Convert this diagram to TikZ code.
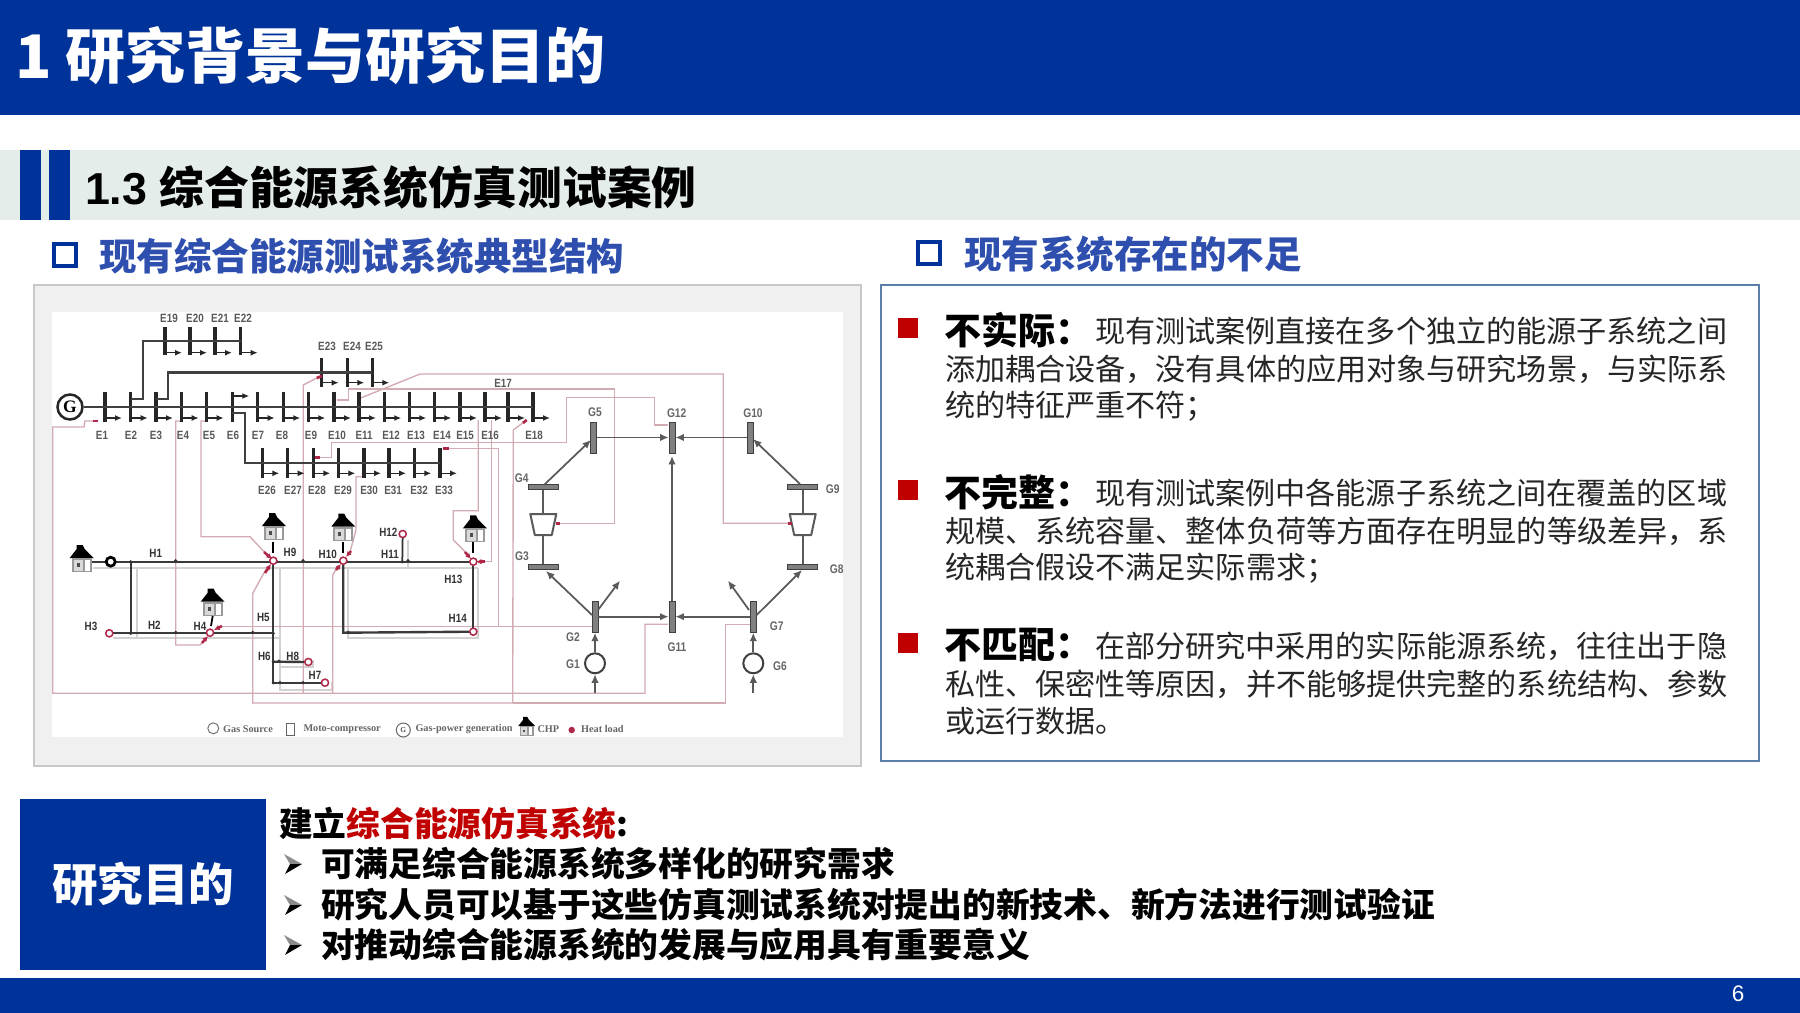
\documentclass[tikz,border=0pt]{standalone}
\usepackage{fontspec}
\setmainfont{Liberation Sans}
\newfontfamily\cjk{Noto Sans CJK SC}
\newfontfamily\legendfont{Liberation Serif}
\newfontfamily\labfont[FakeStretch=0.82]{Liberation Sans}
\usetikzlibrary{arrows.meta,calc}
\definecolor{navy}{HTML}{003399}
\definecolor{secbg}{HTML}{E5EDEB}
\definecolor{subblue}{HTML}{2F4FAF}
\definecolor{panelbg}{HTML}{F0F0F0}
\definecolor{panelln}{HTML}{C8C8C8}
\definecolor{boxln}{HTML}{5B7FA8}
\definecolor{redsq}{HTML}{C00000}
\definecolor{pinkln}{HTML}{D3ABB2}
\definecolor{crim}{HTML}{B02848}
\definecolor{retln}{HTML}{D2D2D2}
\definecolor{pipe}{HTML}{3A3A3A}
\definecolor{gasln}{HTML}{5A5A5A}
\newcommand{\fs}[1]{\fontsize{#1pt}{#1pt}\selectfont}
\newcommand{\chpicon}[2]{%
  \fill[black] (#1-12,#2)--(#1-5,#2-9)--(#1-5,#2-13)--(#1+1,#2-13)--(#1+3,#2-9)--(#1+12,#2)--cycle;
  \fill[black!40] (#1-10,#2)rectangle(#1+10,#2+14);
  \fill[white] (#1+3,#2+2)rectangle(#1+8,#2+13);
  \fill[white!85!black] (#1-8,#2+2)rectangle(#1+1,#2+13);
  \fill[black!70] (#1-5,#2+5)rectangle(#1-2,#2+9);
}
\newcommand{\cmpr}[2]{%
  \coordinate (#2t) at (#1,514); \coordinate (#2b) at (#1,535);
  \draw[gasln,line width=.8pt,fill=white,line join=round] (#1-13,514)--(#1+13,514)--(#1+8.5,535)--(#1-8.5,535)--cycle;
}
\newcommand{\bulletarrow}[1]{%
  \fill[black!45] (284,#1-10)--(302,#1)--(290,#1)--cycle;
  \fill[black] (302,#1)--(285,#1+10)--(290,#1)--cycle;
}
\tikzset{x=0.4pt,y=-0.4pt,
  txt/.style={inner sep=0pt,outer sep=0pt,anchor=west,font=\cjk},
  ebus/.style={rectangle,fill=black!85,inner sep=0pt,minimum width=1.3pt,minimum height=12pt},
  eline/.style={draw=black!75,line width=.95pt},
  load/.style={draw=black!85,line width=.6pt,-{Latex[length=2.8pt,width=2.4pt]}},
  elab/.style={inner sep=0pt,font=\labfont\bfseries\fs{4.8},text=black!65,text height=3.4pt,text depth=0pt},
  hlab/.style={inner sep=0pt,font=\labfont\bfseries\fs{4.8},text=black!80,text height=3.4pt,text depth=0pt},
  glab/.style={inner sep=0pt,font=\labfont\bfseries\fs{5},text=black!60,text height=3.6pt,text depth=0pt},
  legtxt/.style={inner sep=0pt,anchor=west,font=\legendfont\bfseries\fs{4.1},text=black!60},
  gasv/.style={rectangle,draw=black!75,fill=black!50,line width=.35pt,inner sep=0pt,minimum width=2.4pt,minimum height=12.4pt},
  gash/.style={rectangle,draw=black!75,fill=black!50,line width=.35pt,inner sep=0pt,minimum width=12pt,minimum height=1.9pt},
  gsrc/.style={circle,draw=black!75,fill=white,line width=.8pt,inner sep=0pt,minimum size=8pt},
  gline/.style={draw=gasln,line width=.7pt},
  garr/.style={gline,-{Latex[length=3.4pt,width=3pt]}},
  heat/.style={draw=pinkln,line width=.55pt,line join=miter},
  cross/.style={draw=crim,line width=1pt},
  crossa/.style={draw=crim,line width=1pt,-{Latex[length=2.2pt,width=2.2pt]}},
  pipeln/.style={draw=pipe,line width=.95pt},
  retpipe/.style={draw=retln,line width=.7pt},
  hload/.style={circle,draw=crim,fill=white,line width=.55pt,inner sep=0pt,minimum size=2.8pt},
  jdot/.style={circle,fill=black!80,inner sep=0pt,minimum size=1.4pt},
  redbox/.style={fill=redsq,inner sep=0pt,minimum size=8pt,rectangle},
  sq/.style={rectangle,draw=#1,line width=1.5pt,inner sep=0pt,minimum size=8.6pt},
}
\begin{document}
\begin{tikzpicture}
\useasboundingbox (0,0) rectangle (1800,1013);
\fill[white] (0,0) rectangle (1800,1013);
% header, footer, section bar
\fill[navy] (0,0) rectangle (1800,115);
\fill[navy] (0,978) rectangle (1800,1013);
\fill[secbg] (0,150) rectangle (1800,220);
\fill[navy] (20,150) rectangle (41,220);
\fill[navy] (49,150) rectangle (70,220);
\node[txt,text=white] (title) at (15,56) {\fs{24}\bfseries 1 研究背景与研究目的};
\node[txt,text=black] (sect) at (85,187) {\fs{17.9}\bfseries\fontspec{Liberation Sans}1.3 \cjk 综合能源系统仿真测试案例};
\node[sq=navy] (sqa) at (65,255) {};
\node[txt,text=subblue] (suba) at (99,256) {\fs{15}\bfseries 现有综合能源测试系统典型结构};
\node[sq=navy] (sqb) at (929,253) {};
\node[txt,text=subblue] (subb) at (964,254) {\fs{15}\bfseries 现有系统存在的不足};
\node[inner sep=0pt,font=\fs{9},text=white] (pgno) at (1738,994) {6};
% left panel
\draw[panelln,fill=panelbg,line width=.7pt] (34,285) rectangle (861,766);
\fill[white] (52,312) rectangle (843,737);
% right panel
\draw[boxln,line width=.65pt] (881,285) rectangle (1759,761);
\node[redbox] (ra) at (908,328) {};
\node[redbox] (rb) at (908,490) {};
\node[redbox] (rc) at (908,643) {};
\node[txt] (ha) at (944,330) {\fs{14.8}\bfseries 不实际：};
\node[txt,text=black!85] (a1) at (1095,331) {\fs{12.04}现有测试案例直接在多个独立的能源子系统之间};
\node[txt,text=black!85] (a2) at (945,369) {\fs{12.04}添加耦合设备，没有具体的应用对象与研究场景，与实际系};
\node[txt,text=black!85] (a3) at (945,406) {\fs{12.04}统的特征严重不符；};
\node[txt] (hb) at (944,492) {\fs{14.8}\bfseries 不完整：};
\node[txt,text=black!85] (b1) at (1095,493) {\fs{12.04}现有测试案例中各能源子系统之间在覆盖的区域};
\node[txt,text=black!85] (b2) at (945,531) {\fs{12.04}规模、系统容量、整体负荷等方面存在明显的等级差异，系};
\node[txt,text=black!85] (b3) at (945,568) {\fs{12.04}统耦合假设不满足实际需求；};
\node[txt] (hc) at (944,645) {\fs{14.8}\bfseries 不匹配：};
\node[txt,text=black!85] (c1) at (1095,646) {\fs{12.04}在部分研究中采用的实际能源系统，往往出于隐};
\node[txt,text=black!85] (c2) at (945,684) {\fs{12.04}私性、保密性等原因，并不能够提供完整的系统结构、参数};
\node[txt,text=black!85] (c3) at (945,721) {\fs{12.04}或运行数据。};
% bottom
\fill[navy] (20,799) rectangle (266,970);
\node[inner sep=0pt,font=\cjk\bfseries\fs{18.2},text=white] (goal) at (143,884) {研究目的};
\node[txt] (g0) at (279,824) {\fs{13.5}\bfseries 建立\textcolor{redsq}{综合能源仿真系统}:};
\bulletarrow{864}\bulletarrow{905}\bulletarrow{945}
\node[txt] (g1) at (321,864) {\fs{13.5}\bfseries 可满足综合能源系统多样化的研究需求};
\node[txt] (g2) at (321,905) {\fs{13.5}\bfseries 研究人员可以基于这些仿真测试系统对提出的新技术、新方法进行测试验证};
\node[txt] (g3) at (321,945) {\fs{13.5}\bfseries 对推动综合能源系统的发展与应用具有重要意义};
% ---------- coupling lines
\draw[retpipe] (93,568)--(478,568);
\draw[retpipe] (136.7,568)--(136.7,638);
\draw[retpipe] (113,638)--(280,638);
\draw[retpipe] (280,568)--(280,690)--(332,690)--(332,682);
\draw[retpipe] (280,667)--(313,667)--(313,660);
\draw[retpipe] (348.3,568)--(348.3,638)--(478.3,638)--(478.3,568);
\draw[retpipe] (408,540)--(408,568);
\draw[heat] (98,421)--(85,421)--(84,427)--(52.7,427)--(52.7,693.3)--(645,693.3)--(645,624.3)--(668,624.3);
\draw[heat] (180,421)--(175.7,421)--(175.7,645)--(200,645)--(207,637);
\draw[heat] (207,421)--(201,421)--(201,536.7)--(250,536.7)--(268,556);
\draw[heat] (316.7,378)--(303.3,385)--(303.3,693.3);
\draw[heat] (336.7,400)--(348.3,400)--(348.3,389)--(614.3,389)--(614.3,523.3)--(560,523.3);
\draw[heat] (360,398.3)--(420,374)--(723.3,374)--(723.3,523.3)--(788,523.3);
\draw[heat] (526.7,420)--(513.3,430)--(512.7,703)--(252.7,703)--(252.7,593.3)--(266.7,568);
\draw[heat] (512.7,703)--(725.7,703)--(725.7,624.3)--(751.7,624.3);
\draw[heat] (362,476.7)--(356,476.7)--(356,530)--(350,552);
\draw[heat] (320,457.7)--(331.7,457.7)--(331.7,442.7)--(566.7,442.7)--(566.7,397.7)--(654.3,397.7)--(654.3,425)--(668,425);
\draw[heat] (443.3,448.3)--(498.3,448.3)--(498.3,626.7);
\draw[heat] (220,626.7)--(591.7,626.7);
\draw[heat] (491.7,420)--(491.7,561.7)--(482,561.7);
\draw[heat] (478.3,420)--(478.3,510.7)--(453.3,510.7)--(453.3,540)--(468.3,555);
\draw[heat] (338,566)--(332.7,575)--(332.7,693.3);
% ---------- electricity
\node[circle,draw=black!85,line width=1pt,fill=white,minimum size=10pt,inner sep=0pt,font=\legendfont\bfseries\fs{7}] (Gen) at (70,407) {G};
\foreach \n/\x in {1/105,2/130.7,3/156,4/181.7,5/206.7,6/232.3,7/257.7,8/283.3,9/308.3,10/334,11/359,12/384.3,13/409.3,14/434.3,15/460,16/485,17/508,18/533}{
  \node[ebus] (E\n) at (\x,407) {};
}
\draw[eline] (Gen.east)--(E18.center);
\foreach \n/\x in {19/165,20/190,21/215,22/240.7}{ \node[ebus,minimum height=11pt] (E\n) at (\x,341) {}; \draw[load] (\x,352.7)--++(17,0); }
\foreach \n/\x in {23/321.7,24/347.3,25/372.3}{ \node[ebus,minimum height=11.6pt] (E\n) at (\x,372.5) {}; \draw[load] (\x,382.7)--++(17,0); }
\foreach \n/\x in {26/262.3,27/287.7,28/313.3,29/338.3,30/364,31/389,32/414.3,33/440}{ \node[ebus] (E\n) at (\x,462.7) {}; \draw[load] (\x,473.3)--++(17,0); }
\foreach \x in {105,130.7,156,181.7,206.7,257.7,283.3,308.3,334,359,384.3,409.3,434.3,460,485,508,533}{ \draw[load] (\x,418)--++(17,0); }
\draw[load] (232.3,396)--++(17,0);
\coordinate (e2b) at (130.7,399); \coordinate (e3b) at (156,399); \coordinate (e6b) at (232.3,413);
\draw[eline] (e2b)--(143,399)--(143,341)--(E22.center);
\draw[eline] (e3b)--(168,399)--(168,372.5)--(E25.center);
\draw[eline] (e6b)--(245,413)--(245,462.7)--(E33.center);
\foreach \n/\x in {1/102,2/131,3/156,4/183,5/209,6/233,7/258,8/282,9/311,10/337,11/364,12/391,13/416,14/442,15/465,16/490,18/534}{ \node[elab] (LE\n) at (\x,435) {E\n}; }
\foreach \n/\x in {19/169,20/195,21/220,22/243}{ \node[elab] (LE\n) at (\x,318) {E\n}; }
\foreach \n/\x in {23/327,24/352,25/374}{ \node[elab] (LE\n) at (\x,346) {E\n}; }
\foreach \n/\x in {26/267,27/293,28/317,29/343,30/369,31/393,32/419,33/444}{ \node[elab] (LE\n) at (\x,490) {E\n}; }
\node[elab] (LE17) at (503,383) {E17};
% ---------- gas
\node[gasv] (G5) at (593.3,437.5) {};
\node[gasv] (G12) at (672,437.5) {};
\node[gasv] (G10) at (750.7,437.5) {};
\node[gash] (G4) at (543.3,486.7) {};
\node[gash] (G9) at (802.7,486.7) {};
\node[gash] (G3) at (543.3,566.7) {};
\node[gash] (G8) at (802.7,566.7) {};
\node[gasv] (G2) at (595,616.7) {};
\node[gasv] (G11) at (672,616.7) {};
\node[gasv] (G7) at (753.3,616.7) {};
\node[gsrc] (G1) at (595,663.3) {};
\node[gsrc] (G6) at (753.3,663.3) {};
\cmpr{543.3}{Ca}
\cmpr{802.7}{Cb}
\draw[gline] (G4.south)--(Cat); \draw[gline] (Cab)--(G3.north);
\draw[gline] (G9.south)--(Cbt); \draw[gline] (Cbb)--(G8.north);
\draw[garr] (G5.east)--(G12.west);
\draw[garr] (G10.west)--(G12.east);
\draw[garr] (G2.east)--(G11.west);
\draw[garr] (G7.west)--(G11.east);
\draw[garr,shorten >=1pt] (G11.north)--(G12.south);
\coordinate (g4u) at (544,485); \coordinate (g5d) at (591,440);
\coordinate (g9u) at (800,484); \coordinate (g10d) at (753,439);
\coordinate (g2l) at (592,615); \coordinate (g3d) at (546,571);
\coordinate (g2r) at (598,610); \coordinate (g2o) at (620,580.7);
\coordinate (g7r) at (756.7,615); \coordinate (g8d) at (802,570);
\coordinate (g7l) at (749,610); \coordinate (g7o) at (728,580.7);
\coordinate (s1) at (595,692.7); \coordinate (s6) at (753.3,692.7);
\draw[garr] (g4u)--(g5d);
\draw[garr] (g9u)--(g10d);
\draw[garr] (g2l)--(g3d);
\draw[garr] (g2r)--(g2o);
\draw[garr] (g7r)--(g8d);
\draw[garr] (g7l)--(g7o);
\draw[garr] (G1.north)--(G2.south);
\draw[garr] (G6.north)--(G7.south);
\draw[garr] (s1)--(G1.south);
\draw[garr] (s6)--(G6.south);
\foreach \t/\x/\y in {G5/595/411.7,G12/676.7/413.3,G10/753/413,G4/521.7/478,G9/832.7/489,G3/522/556,G8/836.7/569.3,G2/573/636.7,G7/776.7/626,G11/677/646.7,G1/573/664,G6/780/666}{
  \node[glab] (L\t) at (\x,\y) {\t};
}
% ---------- heat network
\chpicon{81.7}{558}
\chpicon{274}{526}
\chpicon{343.3}{526.7}
\chpicon{212.7}{601.7}
\chpicon{475}{528.3}
\node[hload] (h3) at (109.3,633.3) {};
\node[hload] (h4) at (210,632.7) {};
\node[hload] (h9) at (273.3,560.7) {};
\node[hload] (h10) at (343.3,560.7) {};
\node[hload] (h8) at (308.3,662) {};
\node[hload] (h7) at (325,682.7) {};
\node[hload] (h12) at (402.7,534) {};
\node[hload] (h13) at (473.3,561.7) {};
\node[hload] (h14) at (473.3,631.7) {};
\coordinate (chp1) at (92,561.7);
\draw[pipeln] (chp1)--(h13);
\draw[pipeln] (130.7,561.7)--(130.7,633.3);
\draw[pipeln] (h3)--(273.3,633.3);
\draw[pipeln] (h9)--(273.3,682.7)--(h7);
\draw[pipeln] (273.3,661.7)--(h8);
\draw[pipeln] (h10)--(343.3,632.7)--(h14);
\draw[pipeln] (h13)--(h14);
\draw[draw=black!80,line width=.7pt] (402.3,561.7)--(h12);
\node[circle,draw=black,fill=white,line width=1.1pt,inner sep=0pt,minimum size=3.6pt] (pump) at (110.7,561.7) {};
\foreach \p in {h3,h4,h9,h10,h8,h7,h12,h13,h14}{ \node[hload] at (\p) {}; }
\foreach \x/\y in {130.7/561.7,175.7/560.7,303/560.7,402.3/561.7,408/560.7,130.7/633.3,175.7/632.3,252.7/632.3,273.3/633.3,273.3/661.7,279/661,273.3/682.7,280/682.7,303/682.7,348.3/632.3}{ \node[jdot] at (\x,\y) {}; }
\draw[draw=black,line width=.7pt] (273.3,542)--(273.3,553);
\draw[draw=black,line width=.7pt] (343.3,542)--(343.3,553);
\draw[draw=black,line width=.7pt] (212.7,616)--(211,626);
\draw[draw=black,line width=.7pt] (473.3,542)--(473.3,553);
\draw[crossa] (264,552)--(272,559);
\draw[crossa] (265,573)--(271,564);
\draw[crossa] (336,570)--(341,564);
\draw[crossa] (351,551)--(346,557);
\draw[crossa] (202,643)--(208,636);
\draw[crossa] (222,626)--(214,630);
\draw[crossa] (465,552)--(471,559);
\draw[crossa] (485,561.7)--(476,561.7);
\foreach \c/\d in {{98,421}/{93,421},{316.7,378}/{322,376},{320,457.7}/{315,457.7},{443.3,448.3}/{449,448.3},{526.7,420}/{523,423},{560,523.3}/{556,523.3},{788,523.3}/{792,523.3}}{
  \draw[draw=crim,line width=1.1pt] (\c)--(\d);
}
\foreach \t/\x/\y in {H1/155.7/553.3,H2/154.3/625,H3/91/626,H4/200/626,H5/263.3/617.7,H6/264.3/656,H8/292.7/656,H7/315/675.7,H9/290/552.3,H10/327.7/554.3,H11/390/554,H12/388.3/532.3,H13/453.3/579.3,H14/457.7/618.3}{
  \node[hlab] (L\t) at (\x,\y) {\t};
}
% ---------- legend
\node[circle,draw=black!55,line width=.4pt,inner sep=0pt,minimum size=4.4pt] (lg1) at (213.3,728.3) {};
\node[legtxt] (lt1) at (222.7,729.3) {Gas Source};
\node[rectangle,draw=black!60,line width=.4pt,inner sep=0pt,minimum width=3.2pt,minimum height=4.8pt] (lg2) at (290,729.3) {};
\node[legtxt] (lt2) at (303,729.3) {Moto-compressor};
\node[circle,draw=black!60,line width=.4pt,inner sep=0pt,minimum size=5.6pt,font=\legendfont\fs{3}] (lg3) at (403.3,730) {G};
\node[legtxt] (lt3) at (415,729.3) {Gas-power generation};
\begin{scope}[shift={(526.7,726)},scale=.7]
\chpicon{0}{0}
\end{scope}
\node[legtxt] (lt4) at (537,729.3) {CHP};
\node[circle,fill=crim,inner sep=0pt,minimum size=2.6pt] (lg5) at (571.7,730) {};
\node[legtxt] (lt5) at (580.7,729.3) {Heat load};
\end{tikzpicture}
\end{document}
